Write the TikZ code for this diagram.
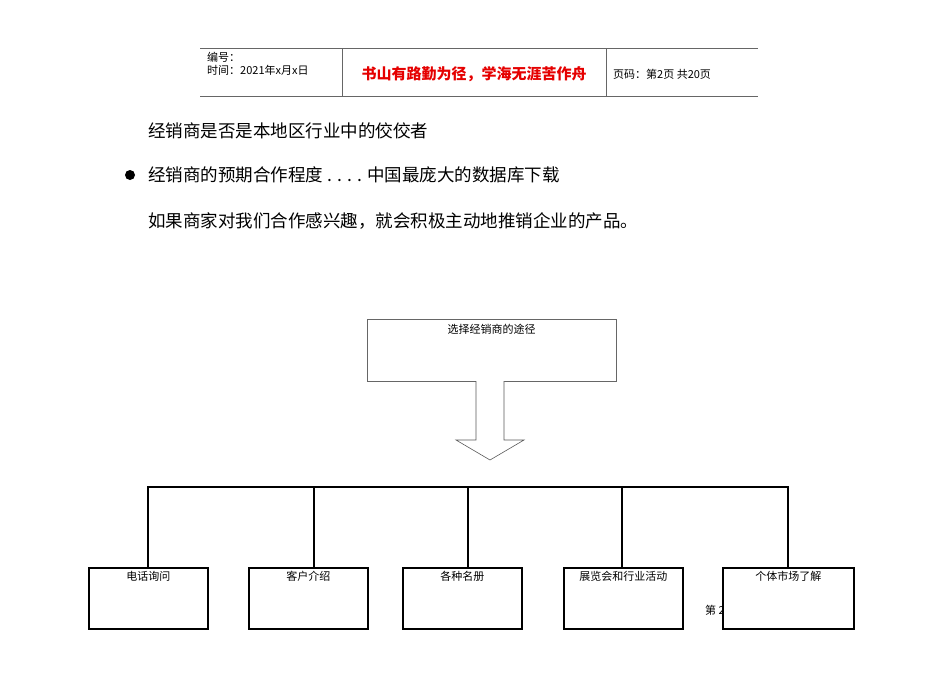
\documentclass[tikz,border=0pt]{standalone}
\usepackage{fontspec}
\setmainfont{Noto Sans CJK SC}
\begin{document}
\begin{tikzpicture}[x=1pt,y=-1pt,
  hline/.style={gray!80!black,line width=0.8pt},
  bigtxt/.style={anchor=west,inner sep=0pt,font=\fontsize{17.5}{19}\selectfont},
  smalltxt/.style={inner sep=0pt,font=\fontsize{11}{12}\selectfont},
  leaf/.style={draw,line width=1.6pt,fill=white,minimum width=119pt,minimum height=61pt,anchor=north west},
  bus/.style={line width=1.8pt}]
\useasboundingbox (0,0) rectangle (950,672);
% header
\draw[hline] (200,48) -- (758,48);
\draw[hline] (200,96) -- (758,96);
\draw[hline] (342,48) -- (342,96);
\draw[hline] (606,48) -- (606,96);
\node[smalltxt,anchor=west] (h1) at (207,57) {编号：};
\node[smalltxt,anchor=west] (h2) at (207,70) {时间：2021年x月x日};
\node[inner sep=0pt,text=red!90!black,font=\fontsize{15}{17}\selectfont\bfseries] (h3) at (474,74) {书山有路勤为径，学海无涯苦作舟};
\node[smalltxt,anchor=west] (h4) at (613,74) {页码：第2页 共20页};
% body text
\node[bigtxt] (t1) at (148,131) {经销商是否是本地区行业中的佼佼者};
\fill (130,175) circle (5pt);
\node[bigtxt] (t2) at (148,175) {经销商的预期合作程度 . . . . 中国最庞大的数据库下载};
\node[bigtxt] (t3) at (148,221) {如果商家对我们合作感兴趣，就会积极主动地推销企业的产品。};
% top box
\node[draw,gray!80!black,line width=0.6pt,minimum width=249pt,minimum height=62pt,anchor=north west] (top) at (367,319) {};
\node[smalltxt,anchor=north] (toptxt) at (491.5,324) {选择经销商的途径};
% hollow arrow
\draw[gray!70!black,line width=0.6pt,fill=white] (476,381) -- (476,440) -- (456,440) -- (490,460) -- (524,440) -- (504,440) -- (504,381);
% bus
\draw[bus] (148,567) -- (148,487) -- (788,487) -- (788,567);
\foreach \x in {314,468,622} \draw[bus] (\x,487) -- (\x,567);
% page mark
\node[smalltxt,anchor=west] (pg) at (705,610) {第 2};
% leaves
\node[leaf] (b1) at (88,567) {};
\node[leaf] (b2) at (248,567) {};
\node[leaf] (b3) at (402,567) {};
\node[leaf] (b4) at (563,567) {};
\node[leaf,minimum width=131pt] (b5) at (722,567) {};
\node[smalltxt,anchor=north] at ([yshift=-4pt]b1.north) {电话询问};
\node[smalltxt,anchor=north] at ([yshift=-4pt]b2.north) {客户介绍};
\node[smalltxt,anchor=north] at ([yshift=-4pt]b3.north) {各种名册};
\node[smalltxt,anchor=north] at ([yshift=-4pt]b4.north) {展览会和行业活动};
\node[smalltxt,anchor=north] at ([yshift=-4pt]b5.north) {个体市场了解};
\end{tikzpicture}
\end{document}
